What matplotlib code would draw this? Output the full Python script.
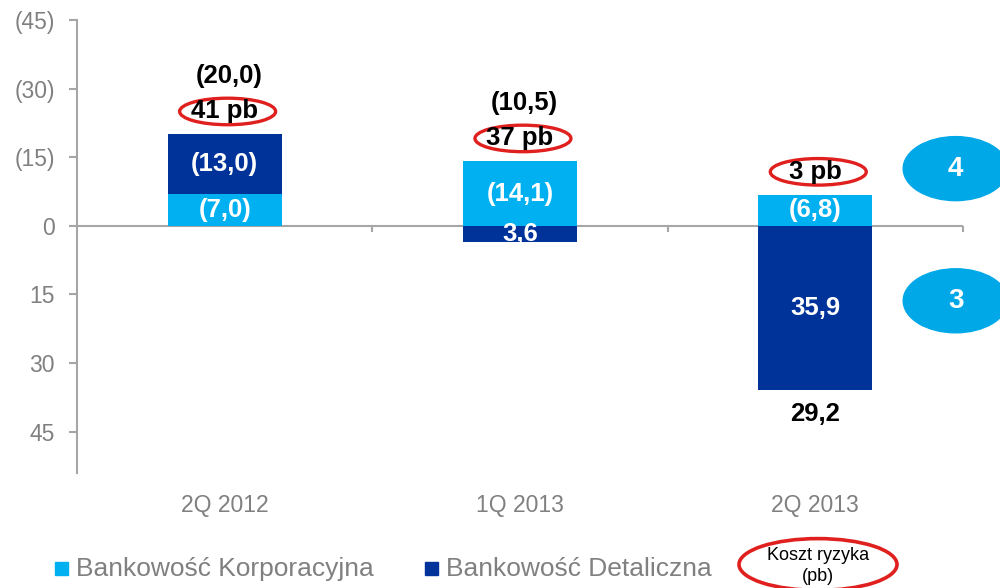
import matplotlib
matplotlib.use("Agg")
import matplotlib.pyplot as plt
from matplotlib.patches import Ellipse, Rectangle

plt.rcParams['font.family'] = ['Liberation Sans', 'DejaVu Sans']

# dane
kategorie = ['2Q 2012', '1Q 2013', '2Q 2013']
korporacyjna = [-7.0, -14.1, -6.8]
detaliczna = [-13.0, 3.6, 35.9]
etykiety_korp = ['(7,0)', '(14,1)', '(6,8)']
etykiety_det = ['(13,0)', '3,6', '35,9']
sumy = ['(20,0)', '(10,5)', '29,2']
koszt_ryzyka = ['41 pb', '37 pb', '3 pb']
y_ticks = [-45, -30, -15, 0, 15, 30, 45]
y_labels = ['(45)', '(30)', '(15)', '0', '15', '30', '45']

jasny = '#00B0F0'
ciemny = '#003399'
szary = '#808080'
czerwony = '#E0201E'

fig = plt.figure(figsize=(10, 5.88), dpi=100)
ax = fig.add_axes([0.077, 0.196, 0.886, 0.770])

x = list(range(len(kategorie)))
w = 0.385
ax.bar(x, korporacyjna, width=w, color=jasny, zorder=2)
dol = [k if d < 0 else 0 for k, d in zip(korporacyjna, detaliczna)]
ax.bar(x, detaliczna, width=w, bottom=dol, color=ciemny, zorder=2)

ax.set_xlim(-0.5, 2.5)
ax.set_ylim(54, -45)

# os zero z kreskami
ax.axhline(0, color='#A6A6A6', lw=1.5, zorder=1)
ax.vlines([0.5, 1.5, 2.5], 0, 1.4, color='#A6A6A6', lw=1.5, clip_on=False)

for s in ['top', 'right', 'bottom']:
    ax.spines[s].set_visible(False)
ax.spines['left'].set_color('#A6A6A6')
ax.spines['left'].set_linewidth(1.5)

ax.set_yticks(y_ticks)
ax.set_yticklabels(y_labels)
ax.tick_params(axis='y', colors='#A6A6A6', labelcolor=szary, labelsize=16.5,
               length=6, width=1.5, pad=10)
ax.set_xticks(x)
ax.set_xticklabels(kategorie)
ax.tick_params(axis='x', length=0, labelcolor=szary, labelsize=16.5, pad=15)

bold = dict(fontsize=18.5, fontweight='bold', ha='center', va='center')
for i in x:
    k = korporacyjna[i]
    d = detaliczna[i]
    ax.text(i, k / 2, etykiety_korp[i], color='white', zorder=3, **bold)
    ax.text(i, dol[i] + d / 2, etykiety_det[i], color='white', zorder=3, **bold)
    top = min(k, dol[i] + d, 0)
    # koszt ryzyka w elipsie
    ax.add_patch(Ellipse((i + 0.01, top - 5.0), 0.325, 5.8, fill=False,
                         ec=czerwony, lw=2.4, zorder=3))
    ax.text(i, top - 5.0, koszt_ryzyka[i], color='black', zorder=4, **bold)
    if i < 2:
        ax.text(i + 0.015, top - 12.8, sumy[i], color='black', **bold)
    else:
        ax.text(i, dol[i] + d + 5.3, sumy[i], color='black', **bold)

# niebieskie elipsy po prawej
for yy, t in [(-12.5, '4'), (16.4, '3')]:
    ax.add_patch(Ellipse((2.475, yy), 0.355, 14.0, color='#00A8E8',
                         clip_on=False, zorder=3))
    ax.text(2.475, yy, t, color='white', fontsize=20, fontweight='bold',
            ha='center', va='center', clip_on=False, zorder=4)

# legenda
fig.patches.append(Rectangle((0.055, 0.022), 0.013, 0.022, color=jasny,
                             transform=fig.transFigure, figure=fig))
fig.text(0.076, 0.033, 'Bankowość Korporacyjna', color=szary, fontsize=19,
         va='center', ha='left')
fig.patches.append(Rectangle((0.425, 0.022), 0.013, 0.022, color=ciemny,
                             transform=fig.transFigure, figure=fig))
fig.text(0.446, 0.033, 'Bankowość Detaliczna', color=szary, fontsize=19,
         va='center', ha='left')
fig.patches.append(Ellipse((0.818, 0.040), 0.158, 0.088, fill=False,
                           ec=czerwony, lw=2.6, transform=fig.transFigure, figure=fig))
fig.text(0.818, 0.038, 'Koszt ryzyka\n(pb)', color='black', fontsize=13,
         ha='center', va='center', linespacing=1.3)

fig.savefig('out.png', dpi=100)
